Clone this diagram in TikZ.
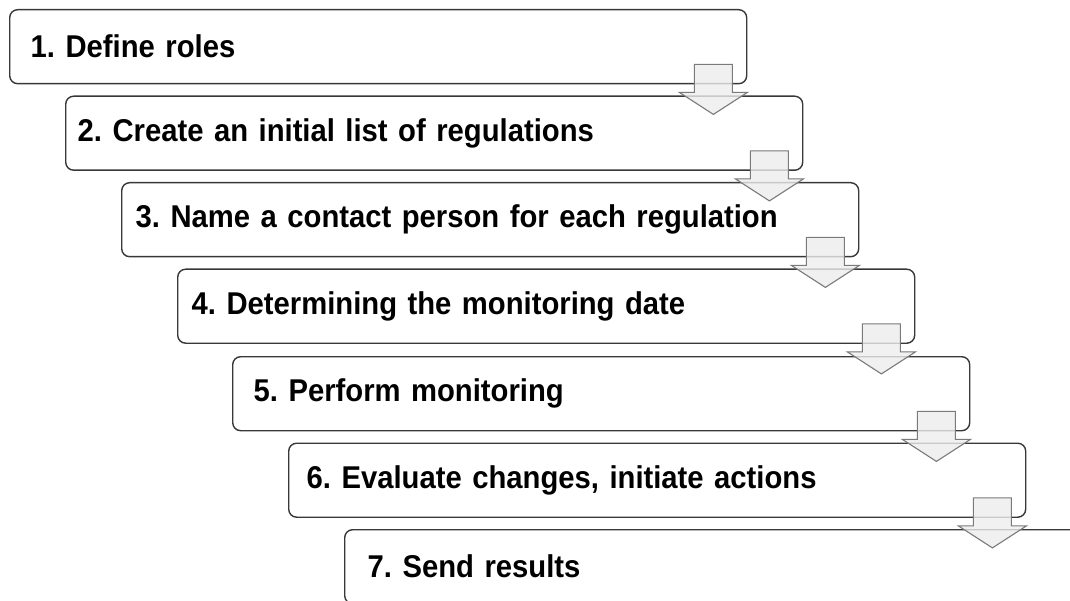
\documentclass[tikz,border=0pt]{standalone}
\usepackage{fontspec}
\setmainfont{Liberation Sans}[FakeStretch=0.928]
\usetikzlibrary{calc}
\frenchspacing
\newcommand{\stepfont}{\fontsize{31.5}{36}\selectfont\bfseries\frenchspacing\spaceskip=7.4pt plus 1pt minus 1pt\relax}
\definecolor{boxline}{HTML}{383838}
\definecolor{arrline}{HTML}{7A7A7A}
\definecolor{arrfill}{HTML}{EDEDED}
\tikzset{
  stepbox/.style={draw=boxline, line width=1.4pt, rounded corners=8pt, fill=white,
    anchor=north west, minimum height=74pt, inner xsep=0pt, inner ysep=0pt,
    text width=737pt, align=left, font=\stepfont,
    execute at begin node={\hspace*{#1}}},
  downarrow/.style={draw=arrline, line width=1.1pt, fill=arrfill, fill opacity=0.8, line join=miter}
}
\newcommand{\blockarrow}[1]{%
  \draw[downarrow]
    ($(#1.south east)+(-53,-20)$) -- ($(#1.south east)+(-15,-20)$) --
    ($(#1.south east)+(-15,8)$) -- ($(#1.south east)+(0,8)$) --
    ($(#1.south east)+(-34,30)$) -- ($(#1.south east)+(-68,8)$) --
    ($(#1.south east)+(-53,8)$) -- cycle;}
\begin{document}
\begin{tikzpicture}[x=1pt,y=-1pt]
\useasboundingbox (0,0) rectangle (1070,601);
\clip (0,0) rectangle (1070,601);
\node[stepbox=21pt] (b1) at (9,9) {1. Define roles};
\node[stepbox=12pt] (b2) at (65,95.5) {2. Create an initial list of regulations};
\node[stepbox=14pt] (b3) at (121,182) {3. Name a contact person for each regulation};
\node[stepbox=14pt] (b4) at (177,268.5) {4. Determining the monitoring date};
\node[stepbox=21pt] (b5) at (232,356) {5. Perform monitoring};
\node[stepbox=18pt] (b6) at (288,442.5) {6. Evaluate changes, initiate actions};
\node[stepbox=23pt] (b7) at (344,529) {7. Send results};
\blockarrow{b1}
\blockarrow{b2}
\blockarrow{b3}
\blockarrow{b4}
\blockarrow{b5}
\blockarrow{b6}
\end{tikzpicture}
\end{document}
